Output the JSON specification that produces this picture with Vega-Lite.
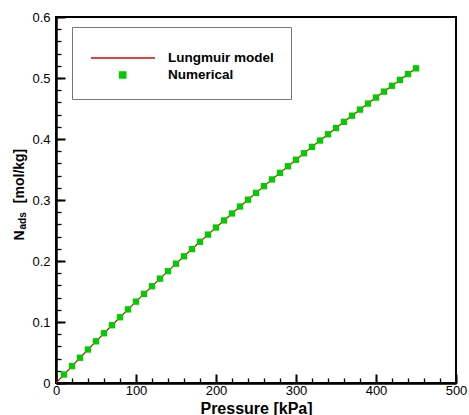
{
  "$schema": "https://vega.github.io/schema/vega-lite/v6.json",
  "width": 400,
  "height": 366,
  "autosize": {"type": "none"},
  "padding": {"left": 56, "top": 17, "right": 13, "bottom": 32},
  "background": "white",
  "config": {
    "font": "Liberation Sans",
    "view": {"stroke": "black", "strokeWidth": 2}
  },
  "datasets": {
    "langmuir": [
      {"P": 0, "N": 0},
      {"P": 10, "N": 0.0139},
      {"P": 20, "N": 0.0277},
      {"P": 30, "N": 0.0414},
      {"P": 40, "N": 0.0549},
      {"P": 50, "N": 0.0683},
      {"P": 60, "N": 0.0816},
      {"P": 70, "N": 0.0947},
      {"P": 80, "N": 0.1078},
      {"P": 90, "N": 0.1207},
      {"P": 100, "N": 0.1334},
      {"P": 110, "N": 0.1461},
      {"P": 120, "N": 0.1586},
      {"P": 130, "N": 0.1711},
      {"P": 140, "N": 0.1834},
      {"P": 150, "N": 0.1956},
      {"P": 160, "N": 0.2077},
      {"P": 170, "N": 0.2196},
      {"P": 180, "N": 0.2315},
      {"P": 190, "N": 0.2433},
      {"P": 200, "N": 0.2549},
      {"P": 210, "N": 0.2665},
      {"P": 220, "N": 0.2779},
      {"P": 230, "N": 0.2893},
      {"P": 240, "N": 0.3005},
      {"P": 250, "N": 0.3117},
      {"P": 260, "N": 0.3227},
      {"P": 270, "N": 0.3337},
      {"P": 280, "N": 0.3445},
      {"P": 290, "N": 0.3553},
      {"P": 300, "N": 0.3660},
      {"P": 310, "N": 0.3766},
      {"P": 320, "N": 0.3871},
      {"P": 330, "N": 0.3975},
      {"P": 340, "N": 0.4078},
      {"P": 350, "N": 0.4180},
      {"P": 360, "N": 0.4282},
      {"P": 370, "N": 0.4382},
      {"P": 380, "N": 0.4482},
      {"P": 390, "N": 0.4581},
      {"P": 400, "N": 0.4679},
      {"P": 410, "N": 0.4777},
      {"P": 420, "N": 0.4873},
      {"P": 430, "N": 0.4969},
      {"P": 440, "N": 0.5064},
      {"P": 450, "N": 0.5158}
    ]
  },
  "layer": [
    {
      "data": {"name": "langmuir"},
      "mark": {"type": "line", "strokeWidth": 1.2, "clip": true},
      "encoding": {
        "x": {
          "field": "P",
          "type": "quantitative",
          "scale": {"domain": [0, 500], "nice": false},
          "axis": {
            "orient": "bottom",
            "tickCount": 5,
            "format": "d",
            "grid": false,
            "domainColor": "black",
            "domainWidth": 2,
            "ticks": true,
            "tickSize": -9,
            "tickColor": "black",
            "tickWidth": 2,
            "labelFlush": false,
            "labelOverlap": false,
            "labelFontSize": 13,
            "labelColor": "black",
            "labelPadding": 10,
            "title": "Pressure [kPa]",
            "titleFontSize": 16,
            "titleFontWeight": "bold",
            "titleColor": "black",
            "titleBaseline": "alphabetic",
            "titleY": 30
          }
        },
        "y": {
          "field": "N",
          "type": "quantitative",
          "scale": {"domain": [0, 0.6], "nice": false},
          "axis": {
            "orient": "left",
            "tickCount": 6,
            "format": "~g",
            "grid": false,
            "domainColor": "black",
            "domainWidth": 2,
            "ticks": true,
            "tickSize": -9,
            "tickColor": "black",
            "tickWidth": 2,
            "labelFontSize": 13,
            "labelColor": "black",
            "labelPadding": 15,
            "title": "N\u00a0\u00a0\u00a0\u00a0\u00a0\u00a0\u00a0[mol/kg]",
            "titleFontSize": 14,
            "titleFontWeight": "bold",
            "titleColor": "black",
            "titleAngle": 270,
            "titleAlign": "left",
            "titleBaseline": "alphabetic",
            "titleX": -32.7,
            "titleY": 223
          }
        },
        "color": {
          "datum": "Lungmuir model",
          "scale": {"domain": ["Lungmuir model", "Numerical"], "range": ["#e00000", "#00cc00"]},
          "legend": {
            "orient": "none",
            "legendX": 16,
            "legendY": 10,
            "title": "\u00a0",
            "titleFontSize": 2,
            "titlePadding": 5,
            "padding": 17,
            "rowPadding": 3,
            "strokeColor": "#777777",
            "fillColor": "white",
            "symbolSize": 144,
            "labelOffset": 65,
            "labelFont": "Liberation Sans",
            "labelFontSize": 13.5,
            "labelFontWeight": "bold",
            "labelColor": "black",
            "labelLimit": 300,
            "encode": {
              "symbols": {
                "update": {
                  "shape": {"signal": "datum.value === 'Numerical' ? 'M3.95,-0.5H4.95V0.5H3.95Z' : 'M-0.83,0H9.83'"},
                  "fill": {"signal": "datum.value === 'Numerical' ? '#00cc00' : 'transparent'"},
                  "stroke": {"signal": "datum.value === 'Numerical' ? '#00cc00' : '#e00000'"},
                  "strokeWidth": {"value": 1.6},
                  "size": {"value": 144},
                  "opacity": {"value": 1}
                }
              }
            }
          }
        }
      }
    },
    {
      "data": {"name": "langmuir"},
      "transform": [{"filter": "datum.P > 0"}],
      "mark": {"type": "point", "shape": "square", "filled": true, "size": 40, "opacity": 1},
      "encoding": {
        "x": {
          "field": "P",
          "type": "quantitative",
          "scale": {"domain": [0, 500], "nice": false},
          "axis": {
            "orient": "bottom",
            "tickCount": 25,
            "grid": false,
            "domainColor": "black",
            "domainWidth": 2,
            "ticks": true,
            "tickSize": -5,
            "tickColor": "black",
            "tickWidth": 1.3,
            "labels": false,
            "title": null
          }
        },
        "y": {
          "field": "N",
          "type": "quantitative",
          "scale": {"domain": [0, 0.6], "nice": false},
          "axis": {
            "orient": "left",
            "tickCount": 30,
            "grid": false,
            "domainColor": "black",
            "domainWidth": 2,
            "ticks": true,
            "tickSize": -5,
            "tickColor": "black",
            "tickWidth": 1.3,
            "labels": false,
            "title": "ads",
            "titleFontSize": 10,
            "titleFontWeight": "bold",
            "titleColor": "black",
            "titleAngle": 270,
            "titleAlign": "left",
            "titleBaseline": "alphabetic",
            "titleX": -30.5,
            "titleY": 212
          }
        },
        "color": {"datum": "Numerical"}
      }
    }
  ],
  "resolve": {"axis": {"x": "independent", "y": "independent"}}
}
